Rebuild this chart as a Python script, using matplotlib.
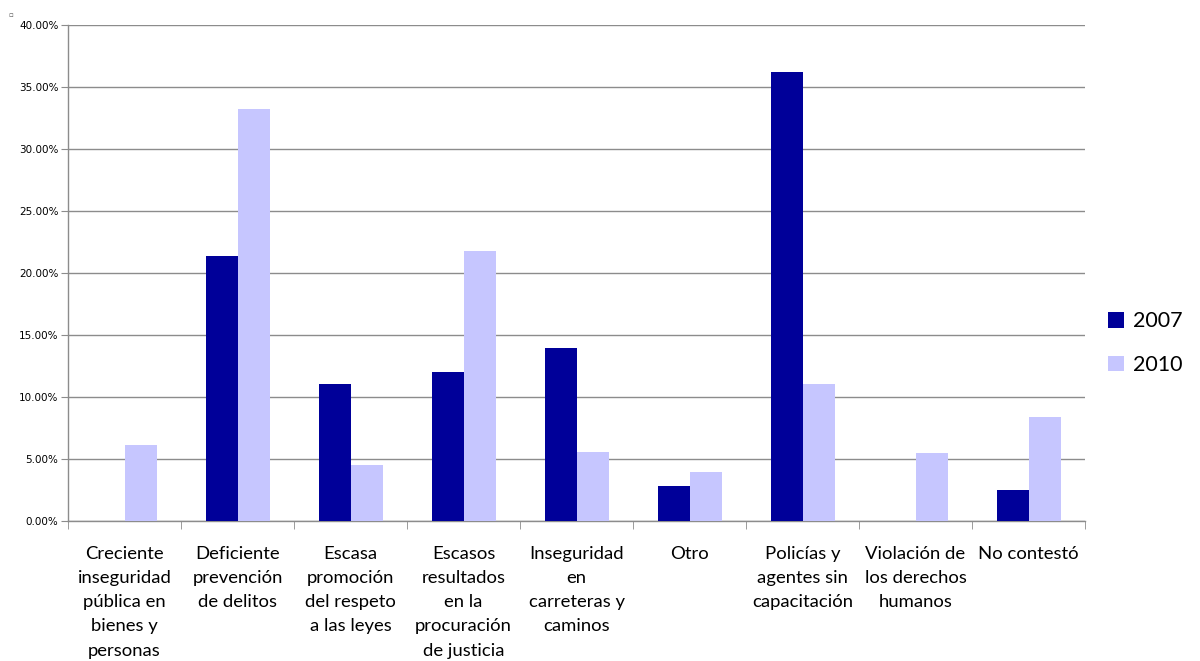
import matplotlib
matplotlib.use("Agg")
import matplotlib.pyplot as plt
import numpy as np
from matplotlib.ticker import FuncFormatter, FixedLocator

categories = [
    "Creciente\ninseguridad\npública en\nbienes y\npersonas",
    "Deficiente\nprevención\nde delitos",
    "Escasa\npromoción\ndel respeto\na las leyes",
    "Escasos\nresultados\nen la\nprocuración\nde justicia",
    "Inseguridad\nen\ncarreteras y\ncaminos",
    "Otro",
    "Policías y\nagentes sin\ncapacitación",
    "Violación de\nlos derechos\nhumanos",
    "No contestó",
]
series_labels = ["2007", "2010"]
values_2007 = [0.0, 21.4, 11.05, 12.0, 13.95, 2.85, 36.25, 0.0, 2.5]
values_2010 = [6.1, 33.2, 4.5, 21.8, 5.55, 3.95, 11.05, 5.5, 8.4]
yticks = [0, 5, 10, 15, 20, 25, 30, 35, 40]

colors = ["#000099", "#C6C6FF"]

fig = plt.figure(figsize=(12, 6.61), dpi=100)
ax = fig.add_axes([0.0567, 0.212, 0.8475, 0.750])

x = np.arange(len(categories))
w = 0.283
ax.bar(x - w / 2, values_2007, w, color=colors[0], label=series_labels[0], zorder=3)
ax.bar(x + w / 2, values_2010, w, color=colors[1], label=series_labels[1], zorder=3)

ax.set_xlim(-0.5, len(categories) - 0.5)
ax.set_ylim(0, 40)
ax.yaxis.set_major_locator(FixedLocator(yticks))
ax.yaxis.set_major_formatter(FuncFormatter(lambda v, p: f"{v:.2f}%"))
ax.grid(axis="y", color="#8c8c8c", linewidth=1, zorder=0)
ax.set_axisbelow(True)

for s in ["top", "right"]:
    ax.spines[s].set_visible(False)
for s in ["left", "bottom"]:
    ax.spines[s].set_color("#8c8c8c")
    ax.spines[s].set_linewidth(1)

ax.tick_params(axis="y", length=5, color="#8c8c8c", labelsize=7.5, pad=2, direction="out")
ax.set_xticks(x)
ax.set_xticklabels(categories, fontsize=13.3, family=["Lato", "DejaVu Sans"],
                   linespacing=1.63, va="top")
ax.tick_params(axis="x", length=0, pad=18)
ax.set_xticks(np.arange(-0.5, len(categories) + 0.5, 1), minor=True)
ax.tick_params(axis="x", which="minor", length=6, color="#8c8c8c", direction="out")

leg = fig.legend(loc="center left", bbox_to_anchor=(0.907, 0.481), frameon=False,
                 prop={"family": ["Lato", "DejaVu Sans"], "size": 15.5},
                 handlelength=0.75, handleheight=0.75, handletextpad=0.4,
                 labelspacing=1.1)

fig.text(0.007, 0.978, "▫", fontsize=5, color="#555555", ha="left", va="center")

fig.savefig("out.png", dpi=100)
